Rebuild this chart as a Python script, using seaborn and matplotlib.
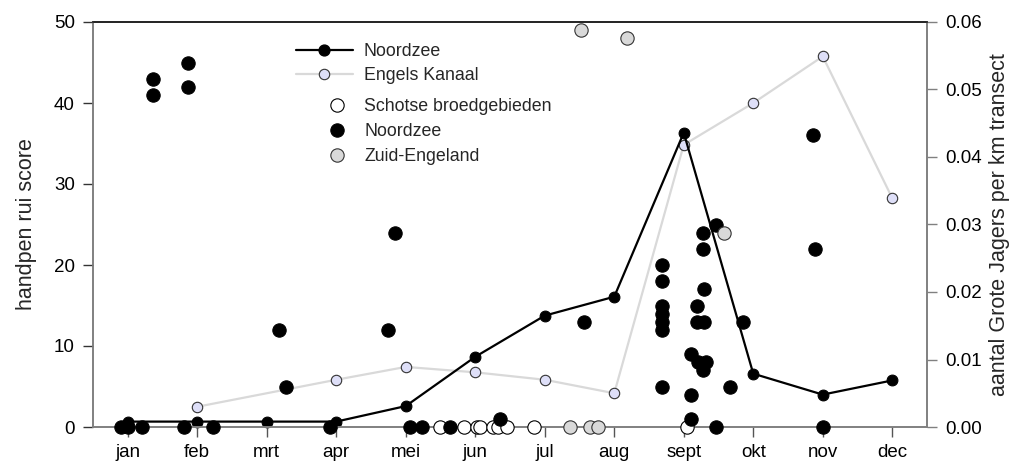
import matplotlib
matplotlib.use("Agg")
import matplotlib.pyplot as plt
from matplotlib.lines import Line2D
import seaborn as sns

sns.set_theme(style="white")
plt.rcParams["font.family"] = ["Liberation Sans", "DejaVu Sans"]

# --- data -------------------------------------------------------------
month_labels = ["jan", "feb", "mrt", "apr", "mei", "jun",
                "jul", "aug", "sept", "okt", "nov", "dec"]

# density (right axis): Noordzee per month
nz_line_month = [1, 2, 3, 4, 5, 6, 7, 8, 9, 10, 11, 12]
nz_line_value = [0.0008, 0.0008, 0.0008, 0.0008, 0.0031, 0.0104,
                 0.0165, 0.0193, 0.0436, 0.0079, 0.0048, 0.0069]

# density (right axis): Engels Kanaal per month
ek_line_month = [2, 4, 5, 6, 7, 8, 9, 10, 11, 12]
ek_line_value = [0.0030, 0.0070, 0.0089, 0.0081, 0.0070,
                 0.0050, 0.0418, 0.0480, 0.0549, 0.0339]

# moult scores (left axis)
schots_month = [5.49, 5.84, 6.02, 6.07, 6.26, 6.33, 6.46, 6.85, 9.04]
schots_score = [0, 0, 0, 0, 0, 0, 0, 0, 0]

nz_month = [0.91, 1.00, 1.20, 1.37, 1.37, 1.86, 1.86, 1.81, 2.22,
            3.17, 3.27, 3.91, 4.75, 4.85, 5.06, 5.23, 5.63, 6.36, 7.57,
            8.69, 8.69, 8.69, 8.69, 8.69, 8.69, 8.69,
            9.28, 9.28, 9.29, 9.19, 9.19, 9.29, 9.11, 9.21, 9.32, 9.28,
            9.11, 9.11, 9.47, 9.47, 9.67, 9.85, 10.86, 10.89, 11.00]
nz_score = [0, 0, 0, 43, 41, 45, 42, 0, 0,
            12, 5, 0, 12, 24, 0, 0, 0, 1, 13,
            20, 18, 15, 14, 13, 12, 5,
            24, 22, 17, 15, 13, 13, 9, 8, 8, 7,
            4, 1, 25, 0, 5, 13, 36, 22, 0]

ze_month = [7.37, 7.65, 7.76, 7.52, 8.18, 9.58]
ze_score = [0, 0, 0, 49, 48, 24]

# --- figure -----------------------------------------------------------
fig = plt.figure(figsize=(10.13, 4.66), dpi=100)
ax = fig.add_axes([93 / 1013, 39 / 466, 834 / 1013, 405 / 466])
ax2 = ax.twinx()

lavender = "#dedff8"
light = "#d9d9d9"

sns.lineplot(x=ek_line_month, y=ek_line_value, ax=ax2, color=light,
             linewidth=1.6, marker="o", markersize=7.5,
             markerfacecolor=lavender, markeredgecolor="#333333",
             markeredgewidth=0.8, clip_on=False)
sns.lineplot(x=nz_line_month, y=nz_line_value, ax=ax2, color="black",
             linewidth=1.6, marker="o", markersize=7.8,
             markerfacecolor="black", markeredgecolor="black", clip_on=False)

dot = 92
sns.scatterplot(x=schots_month, y=schots_score, ax=ax, s=dot,
                color="white", edgecolor="black", linewidth=0.8,
                clip_on=False, zorder=3)
sns.scatterplot(x=nz_month, y=nz_score, ax=ax, s=dot,
                color="black", edgecolor="black", linewidth=0.8,
                clip_on=False, zorder=4)
sns.scatterplot(x=ze_month, y=ze_score, ax=ax, s=dot,
                color=light, edgecolor="#333333", linewidth=0.8,
                clip_on=False, zorder=5)

# keep markers of the score axis above the density lines
ax.set_zorder(ax2.get_zorder() + 1)
ax.patch.set_visible(False)

ax.set_xlim(0.5, 12.5)
ax.set_ylim(0, 50)
ax2.set_ylim(0, 0.06)
ax.set_xticks(range(1, 13))
ax.set_xticklabels(month_labels)
ax.set_yticks(range(0, 51, 10))
ax2.set_yticks([0, 0.01, 0.02, 0.03, 0.04, 0.05, 0.06])
ax2.set_yticklabels([f"{v:.2f}" for v in ax2.get_yticks()])

for a in (ax, ax2):
    for s in a.spines.values():
        s.set_linewidth(1.2)
        s.set_color("#808080")
    a.spines["top"].set_color("#222222")
    a.grid(False)

ax.tick_params(axis="y", which="both", left=True, length=7, width=1,
               color="#333333", pad=6, labelsize=13.5, labelcolor="black")
ax.tick_params(axis="x", which="both", bottom=True, length=7, width=1,
               color="#555555", pad=5, labelsize=13.5, labelcolor="black")
ax2.tick_params(axis="y", which="both", right=True, length=7, width=1,
                color="#808080", pad=6, labelsize=13.5, labelcolor="black")

ax.set_xlabel("")
ax.set_ylabel("handpen rui score", fontsize=15.5, labelpad=12)
ax2.set_ylabel("aantal Grote Jagers per km transect", fontsize=15.5,
               labelpad=5)

# legends
line_handles = [
    Line2D([], [], color="black", linewidth=1.6, marker="o", markersize=7.8,
           markerfacecolor="black"),
    Line2D([], [], color=light, linewidth=1.6, marker="o", markersize=7.5,
           markerfacecolor=lavender, markeredgecolor="#333333",
           markeredgewidth=0.8),
]
leg1 = ax.legend(line_handles, ["Noordzee", "Engels Kanaal"],
                 loc="upper left", bbox_to_anchor=(296 / 1013, 1 - 43 / 466),
                 bbox_transform=fig.transFigure, frameon=False, fontsize=12.8,
                 handlelength=3.2, handletextpad=0.6, borderpad=0,
                 borderaxespad=0, labelspacing=0.4)
ax.add_artist(leg1)

pt_handles = [
    Line2D([], [], linestyle="none", marker="o", markersize=9.6,
           markerfacecolor="white", markeredgecolor="black",
           markeredgewidth=0.8),
    Line2D([], [], linestyle="none", marker="o", markersize=9.6,
           markerfacecolor="black", markeredgecolor="black",
           markeredgewidth=0.8),
    Line2D([], [], linestyle="none", marker="o", markersize=9.6,
           markerfacecolor=light, markeredgecolor="#333333",
           markeredgewidth=0.8),
]
ax.legend(pt_handles, ["Schotse broedgebieden", "Noordzee", "Zuid-Engeland"],
          loc="upper left", bbox_to_anchor=(320 / 1013, 1 - 98 / 466),
          bbox_transform=fig.transFigure, frameon=False, fontsize=12.8,
          handlelength=1.9, handletextpad=0.6, borderpad=0,
          borderaxespad=0, labelspacing=0.45)

fig.savefig("out.png", dpi=100)
